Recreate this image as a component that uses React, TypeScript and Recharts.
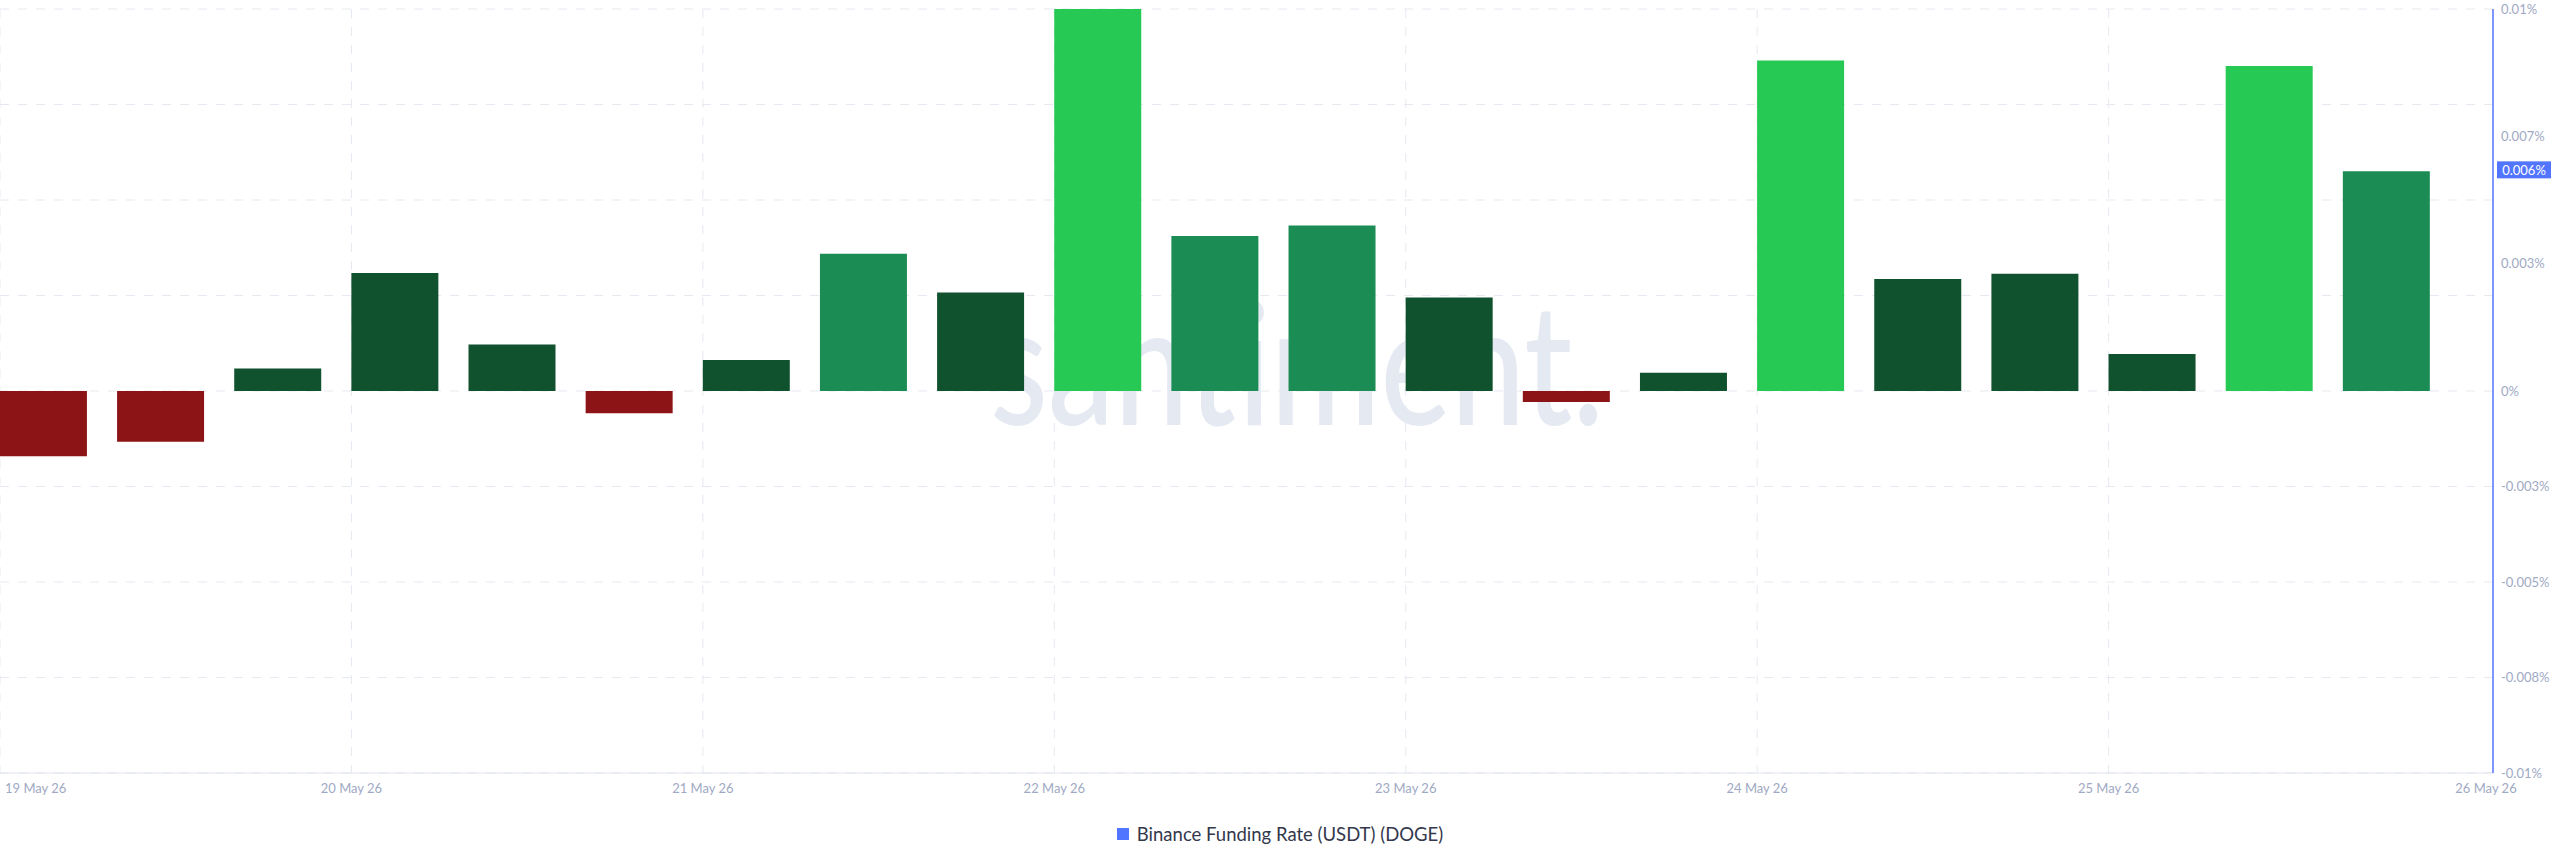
import { Bar, BarChart, CartesianGrid, Legend, Rectangle, ReferenceLine, XAxis, YAxis } from "recharts";

// funding periods (UTC, every 8 hours) and the rate in %
const periods = [
    "2026-05-19T00:00", "2026-05-19T08:00", "2026-05-19T16:00",
    "2026-05-20T00:00", "2026-05-20T08:00", "2026-05-20T16:00",
    "2026-05-21T00:00", "2026-05-21T08:00", "2026-05-21T16:00",
    "2026-05-22T00:00", "2026-05-22T08:00", "2026-05-22T16:00",
    "2026-05-23T00:00", "2026-05-23T08:00", "2026-05-23T16:00",
    "2026-05-24T00:00", "2026-05-24T08:00", "2026-05-24T16:00",
    "2026-05-25T00:00", "2026-05-25T08:00", "2026-05-25T16:00",
];
const fundingRates = [
    -0.00171, -0.00133, 0.00059,
    0.00309, 0.00122, -0.00058,
    0.00081, 0.00359, 0.00258,
    0.01, 0.00406, 0.00433,
    0.00245, -0.00029, 0.00048,
    0.00865, 0.00293, 0.00307,
    0.00097, 0.00851, 0.00575,
];

const dayTicks = ["2026-05-19", "2026-05-20", "2026-05-21", "2026-05-22", "2026-05-23", "2026-05-24", "2026-05-25"];
const dayLabels = ["19 May 26", "20 May 26", "21 May 26", "22 May 26", "23 May 26", "24 May 26", "25 May 26", "26 May 26"];
const rangeEnd = "2026-05-26T02:15";
const yTicks = [-0.01, -0.0075, -0.005, -0.0025, 0, 0.00333, 0.00667, 0.01];
const yGrid = [-0.01, -0.0075, -0.005, -0.0025, 0, 0.0025, 0.005, 0.0075, 0.01];
const seriesName = "Binance Funding Rate (USDT) (DOGE)";

const toTime = (s: string) => Date.parse(s.length === 10 ? s + "T00:00Z" : s + "Z");

const data = periods.map((p, i) => ({ time: toTime(p), rate: fundingRates[i] }));
const xTicks = [...dayTicks.map(toTime), toTime(rangeEnd)];
const gridX = dayTicks.map(toTime);

const FONT = "Lato, 'Open Sans', sans-serif";
const TICK_COLOR = "#A0A9C4";
const BLUE = "#5275FF";

const barColor = (v: number) => {
    if (v < 0) return "#8C1416";
    if (v < 0.0035) return "#11522E";
    if (v < 0.007) return "#1C8C55";
    return "#26C953";
};

const formatPct = (v: number) => {
    if (v === 0) return "0%";
    const r = Math.sign(v) * Math.round(Math.abs(v) * 1000 + 1e-9) / 1000;
    return `${parseFloat(r.toFixed(3))}%`;
};

// bars start at their funding time rather than being centred on it
const FundingBar = (props: any) => {
    const { x, y, width, height, payload } = props;
    return <Rectangle x={x + width / 2} y={y} width={width} height={height} fill={barColor(payload.rate)} />;
};

const DateTick = ({ x, y, index }: any) => {
    const last = index === xTicks.length - 1;
    const anchor = index === 0 ? "start" : "middle";
    const dx = index === 0 ? 5 : last ? -7 : 0;
    return (
        <text x={x + dx} y={y + 18} textAnchor={anchor} fill={TICK_COLOR} fontSize={13} fontFamily={FONT}>
            {dayLabels[index]}
        </text>
    );
};

const lastRate = fundingRates[fundingRates.length - 1];

const CurrentValue = ({ viewBox }: any) => {
    const x = viewBox.x + viewBox.width + 4;
    return (
        <g>
            <rect x={x} y={viewBox.y - 10} width={54} height={17} fill={BLUE} />
            <text x={x + 27} y={viewBox.y + 3.5} textAnchor="middle" fill="#fff" fontSize={13} fontFamily={FONT}>
                {formatPct(lastRate)}
            </text>
        </g>
    );
};

const renderLegend = () => (
    <div style={{ height: 50, display: "flex", justifyContent: "center", alignItems: "flex-start", paddingTop: 7, boxSizing: "border-box", fontFamily: FONT }}>
        <div style={{ display: "flex", alignItems: "center", height: 20 }}>
            <span style={{ width: 12, height: 12, background: BLUE, marginRight: 8, display: "inline-block" }} />
            <span style={{ fontSize: 18.5, color: "#33384C", lineHeight: "20px" }}>{seriesName}</span>
        </div>
    </div>
);

export default function App() {
    return (
        <div style={{ position: "absolute", left: 0, top: 0, width: 2560, height: 867, background: "#fff" }}>
            <svg width={2560} height={867} style={{ position: "absolute", left: 0, top: 0 }}>
                <text
                    transform="translate(990 425) scale(0.95 1.2)"
                    fontSize={140}
                    fontWeight={500}
                    fontFamily={FONT}
                    fill="#E5E9F2"
                >
                    santiment.
                </text>
            </svg>
            <BarChart
                width={2560}
                height={867}
                data={data}
                margin={{ top: 9, right: 0, left: 0, bottom: 0 }}
                style={{ position: "relative" }}
            >
                <CartesianGrid
                    stroke="#E6E9F1"
                    strokeDasharray="9 9"
                    horizontalValues={yGrid}
                    verticalValues={gridX}
                />
                <XAxis
                    dataKey="time"
                    type="number"
                    domain={[xTicks[0], xTicks[xTicks.length - 1]]}
                    ticks={xTicks}
                    interval={0}
                    height={44}
                    tickLine={false}
                    tickSize={0}
                    axisLine={{ stroke: "#E0E4EE" }}
                    tick={<DateTick />}
                />
                <YAxis
                    orientation="right"
                    domain={[-0.01, 0.01]}
                    ticks={yTicks}
                    interval={0}
                    width={67}
                    tickLine={false}
                    tickSize={0}
                    tickMargin={8}
                    axisLine={{ stroke: BLUE, strokeWidth: 1.5 }}
                    tickFormatter={formatPct}
                    tick={{ fill: TICK_COLOR, fontSize: 13, fontFamily: FONT, textAnchor: "start" }}
                />
                <Legend verticalAlign="bottom" content={renderLegend} />
                <Bar dataKey="rate" name={seriesName} barSize={87} shape={FundingBar} isAnimationActive={false} />
                <ReferenceLine y={lastRate} stroke="none" label={CurrentValue} />
            </BarChart>
        </div>
    );
}
